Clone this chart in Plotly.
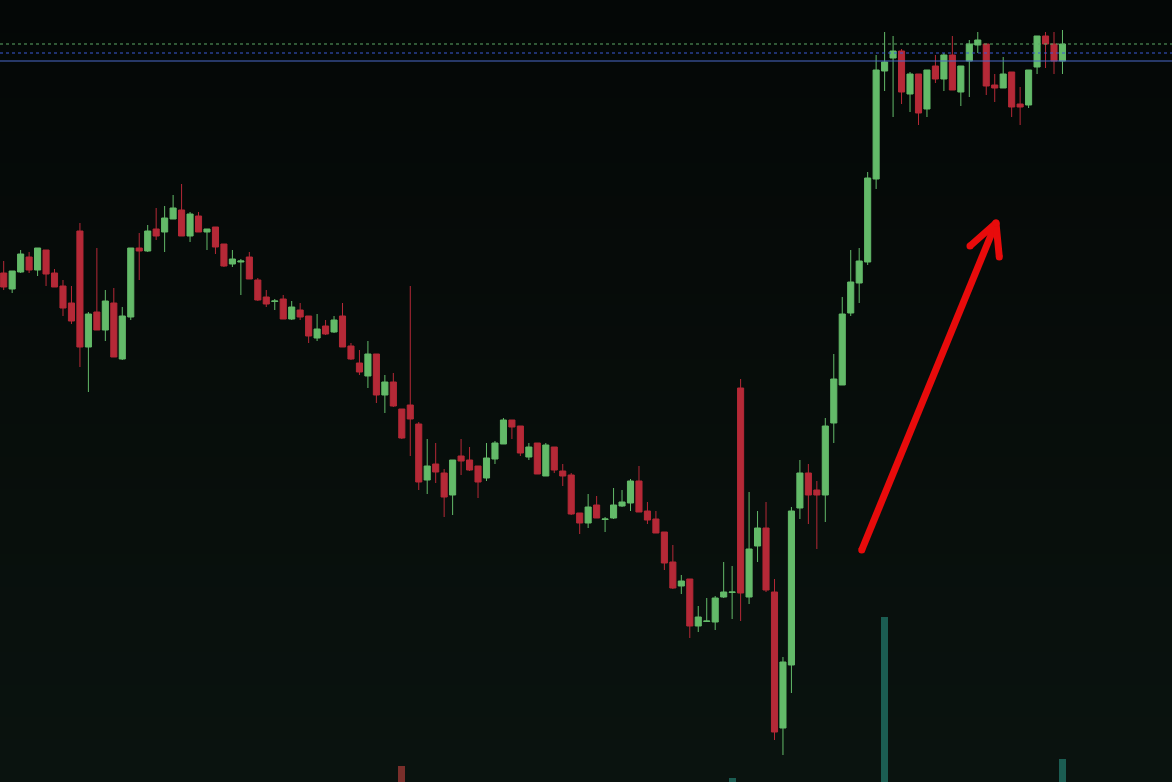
import plotly.graph_objects as go

# ---- candle data (price units) ----
open_ = [52.7, 51.1, 52.8, 54.3, 53.0, 55.0, 52.7, 51.4, 49.7, 56.9,
         45.3, 48.8, 47.0, 49.7, 44.1, 48.3, 55.2, 54.9, 57.1, 56.8,
         58.1, 59.0, 56.4, 58.4, 56.8, 57.3, 55.6, 53.6, 53.8, 54.3,
         52.0, 50.3, 49.85, 50.1, 48.1, 49.0, 48.4, 46.2, 47.4, 46.8,
         48.4, 45.4, 43.7, 42.4, 44.6, 40.5, 41.8, 39.1, 39.5, 37.6,
         32.0, 33.6, 32.7, 30.5, 34.4, 34.0, 33.4, 32.2, 34.1, 35.6,
         38.0, 37.4, 34.3, 35.7, 32.4, 35.3, 32.9, 32.5, 28.7, 27.7,
         29.5, 28.05, 28.2, 29.4, 29.7, 31.9, 28.9, 28.1, 26.8, 23.8,
         21.4, 22.1, 17.4, 17.85, 17.8, 20.3, 20.75, 41.2, 20.3, 25.4,
         27.2, 20.8, 7.2, 13.5, 29.2, 32.7, 31.0, 30.5, 37.7, 41.5,
         48.7, 51.7, 53.8, 62.1, 72.9, 74.2, 74.9, 70.6, 72.6, 69.1,
         73.4, 72.1, 74.5, 70.8, 73.9, 75.5, 75.6, 71.5, 71.2, 72.8,
         69.6, 69.5, 73.3, 76.4, 75.6, 73.9]
high = [53.9, 52.9, 55.0, 54.8, 55.2, 55.0, 53.1, 52.0, 51.4, 57.7,
        48.8, 55.2, 51.0, 51.2, 49.3, 55.2, 56.7, 57.5, 59.2, 59.4,
        60.5, 61.6, 58.8, 58.8, 57.1, 57.3, 55.6, 55.0, 54.1, 54.8,
        52.2, 51.0, 50.1, 50.5, 49.9, 49.7, 48.4, 48.6, 48.0, 48.4,
        49.7, 45.7, 45.0, 45.9, 44.6, 42.5, 42.7, 39.1, 51.4, 37.8,
        36.1, 35.7, 33.1, 34.0, 36.1, 35.3, 33.4, 35.7, 35.9, 38.2,
        38.0, 37.4, 35.7, 35.7, 35.7, 35.3, 33.6, 32.7, 28.7, 30.6,
        30.4, 28.3, 31.2, 31.0, 32.1, 33.4, 29.8, 28.9, 26.8, 25.5,
        22.5, 22.1, 19.4, 20.2, 20.4, 23.8, 23.4, 42.1, 30.8, 28.9,
        29.8, 22.1, 14.3, 29.3, 34.0, 33.6, 31.9, 38.2, 44.6, 50.3,
        55.0, 55.2, 62.8, 74.5, 76.8, 76.4, 75.1, 72.8, 72.6, 73.0,
        74.5, 74.7, 76.4, 73.4, 76.0, 76.8, 75.6, 72.6, 74.3, 72.8,
        71.3, 73.0, 76.4, 76.8, 76.8, 77.0]
low = [51.0, 50.7, 52.7, 52.7, 52.4, 51.4, 51.3, 48.4, 47.6, 43.3,
       40.8, 47.0, 45.9, 44.3, 44.0, 48.0, 52.0, 54.8, 56.0, 54.8,
       58.1, 56.4, 55.8, 56.8, 55.0, 54.6, 53.3, 53.3, 50.5, 52.1,
       49.9, 49.3, 49.0, 48.1, 48.0, 48.0, 45.7, 45.9, 46.5, 46.7,
       45.3, 44.0, 42.5, 41.2, 39.7, 38.7, 39.3, 36.1, 34.4, 31.0,
       30.6, 31.7, 28.3, 28.5, 32.5, 32.9, 30.2, 31.9, 33.6, 35.6,
       36.1, 34.4, 34.0, 32.6, 32.4, 32.7, 31.4, 28.5, 26.6, 27.2,
       28.2, 26.8, 28.1, 29.3, 28.9, 28.8, 27.6, 26.7, 23.0, 21.1,
       20.6, 16.2, 16.8, 17.85, 17.0, 20.2, 18.1, 17.9, 19.6, 23.8,
       20.8, 6.0, 4.5, 10.7, 28.1, 27.6, 25.1, 27.8, 35.7, 41.5,
       48.4, 49.7, 53.5, 61.1, 70.9, 68.3, 69.6, 68.8, 67.5, 68.3,
       71.7, 70.9, 71.0, 69.4, 70.3, 74.7, 70.5, 69.8, 71.2, 68.3,
       67.5, 69.2, 72.6, 73.2, 72.6, 72.6]
close = [51.3, 52.9, 54.6, 53.0, 55.2, 52.6, 51.3, 49.2, 47.9, 45.3,
         48.6, 47.0, 49.9, 44.3, 48.4, 55.2, 54.9, 56.9, 56.4, 58.2,
         59.2, 56.4, 58.6, 56.8, 57.1, 55.3, 53.4, 54.1, 53.9, 52.1,
         50.0, 49.6, 49.9, 48.1, 49.3, 48.3, 46.4, 47.1, 46.6, 48.0,
         45.3, 44.1, 42.8, 44.6, 40.5, 41.8, 39.4, 36.2, 38.1, 31.8,
         33.4, 32.8, 30.3, 34.0, 33.9, 33.0, 31.8, 34.2, 35.7, 38.0,
         37.3, 34.7, 35.3, 32.6, 35.5, 33.0, 32.4, 28.6, 27.7, 29.3,
         28.2, 28.1, 29.5, 29.8, 31.9, 28.8, 28.0, 26.7, 23.7, 21.2,
         21.9, 17.4, 18.3, 17.9, 20.2, 20.8, 20.8, 20.7, 25.1, 27.2,
         21.0, 6.8, 13.8, 28.9, 32.7, 30.5, 30.5, 37.4, 42.1, 48.6,
         51.8, 53.9, 62.2, 73.0, 73.8, 74.9, 70.8, 72.6, 68.7, 73.0,
         72.1, 74.5, 71.0, 73.4, 75.6, 76.0, 71.4, 71.2, 72.6, 69.3,
         69.3, 73.0, 76.4, 75.6, 73.9, 75.6]
bars = list(range(len(open_)))

# ---- visible volume bars (sparse: bar index, volume) ----
vol_index = [47, 86, 104, 125]
vol_value = [20.5, 5.1, 211.0, 29.4]
vol_up = [False, True, True, True]

# ---- horizontal price levels ----
level_green_dot = 75.6
level_blue_dot = 74.7
level_blue_solid = 73.9

# ---- hand-drawn arrow annotation (bar index, price) ----
arrow_x = [101.30, 117.15, None, 114.08, 117.15, 117.54]
arrow_y = [25.0, 57.7, None, 55.4, 57.7, 54.3]

UP = "#63ba69"
DOWN = "#b52937"
BG_TOP = "#040706"
BG_BOT = "#0a130f"
BG = "#070c0a"

XR = [-0.437, 137.93]
YR = [1.8, 80.0]

fig = go.Figure()

# background gradient
fig.add_trace(go.Heatmap(
    x=[XR[0] - 2, XR[1] + 2], y=[YR[0], YR[1]],
    z=[[0, 0], [1, 1]], zsmooth="best",
    colorscale=[[0, BG_BOT], [1, BG_TOP]],
    showscale=False, hoverinfo="skip"))

fig.add_trace(go.Candlestick(
    x=bars, open=open_, high=high, low=low, close=close,
    increasing=dict(line=dict(color=UP, width=1), fillcolor=UP),
    decreasing=dict(line=dict(color=DOWN, width=1), fillcolor=DOWN),
    whiskerwidth=0, showlegend=False))

fig.add_trace(go.Bar(
    x=vol_index, y=vol_value, yaxis="y2", width=0.82,
    marker=dict(color=["#1b5d52" if u else "#7a2f2b" for u in vol_up], line=dict(width=0)),
    showlegend=False))

fig.add_trace(go.Scatter(
    x=arrow_x, y=arrow_y, mode="lines+markers",
    line=dict(color="#e80b0b", width=7),
    marker=dict(color="#e80b0b", size=7),
    showlegend=False, hoverinfo="skip"))

shapes = [
    dict(type="line", xref="paper", x0=0, x1=1, yref="y", y0=level_green_dot, y1=level_green_dot,
         line=dict(color="#5da866", width=1, dash="dot"), layer="above"),
    dict(type="line", xref="paper", x0=0, x1=1, yref="y", y0=level_blue_dot, y1=level_blue_dot,
         line=dict(color="#3a5ad8", width=1, dash="dot"), layer="above"),
    dict(type="line", xref="paper", x0=0, x1=1, yref="y", y0=level_blue_solid, y1=level_blue_solid,
         line=dict(color="#4a68c8", width=1), layer="above"),
]

fig.update_layout(
    width=1172, height=782,
    margin=dict(l=0, r=0, t=0, b=0),
    paper_bgcolor=BG, plot_bgcolor=BG,
    showlegend=False,
    boxgap=0.28, boxgroupgap=0,
    xaxis=dict(range=XR, visible=False, rangeslider=dict(visible=False), fixedrange=True),
    yaxis=dict(range=YR, visible=False, fixedrange=True),
    yaxis2=dict(range=[0, 1000], overlaying="y", visible=False, fixedrange=True),
    shapes=shapes,
    bargap=0,
)

fig.write_html(
    "out.html",
    config={"displayModeBar": False},
    post_script="document.body.style.margin='0';document.body.style.background='%s';"
                "document.body.style.overflow='hidden';" % BG,
)
